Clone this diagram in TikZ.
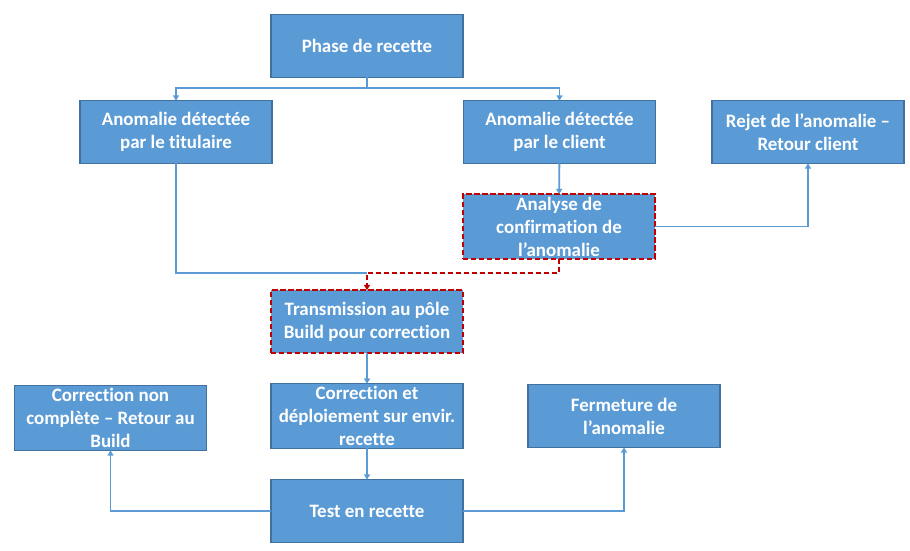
\documentclass[tikz,border=0pt]{standalone}
\usepackage{fontspec}
\setmainfont{Carlito}[Ligatures=NoCommon]
\usetikzlibrary{arrows.meta}

\definecolor{boxblue}{HTML}{5B9BD5}
\definecolor{boxedge}{HTML}{41719C}
\definecolor{darkred}{HTML}{C00000}

\begin{document}
\begin{tikzpicture}[x=0.75pt, y=-0.75pt,
    stepbox/.style={rectangle, fill=boxblue, draw=boxedge, line width=0.8pt,
                    minimum width=144pt, minimum height=47pt,
                    inner sep=2pt, outer sep=0pt, align=center,
                    text=white, font=\bfseries\fontsize{14.2}{17.2}\selectfont},
    checkbox/.style={stepbox, draw=darkred, line width=1.3pt, dash pattern=on 4pt off 2pt},
    link/.style={draw=boxblue, line width=1.4pt, -{Triangle[length=4pt,width=4.5pt]}},
    redlink/.style={link, draw=darkred, dash pattern=on 4pt off 2pt}]
\useasboundingbox (0,0) rectangle (910,550);

\node[stepbox] (phase) at (367,46) {Phase de recette};
\node[stepbox] (titul) at (176,132) {Anomalie détectée\\par le titulaire};
\node[stepbox] (client) at (559.5,132) {Anomalie détectée\\par le client};
\node[stepbox] (rejet) at (808,132) {Rejet de l’anomalie –\\Retour client};
\node[checkbox] (analyse) at (559,226.5) {Analyse de\\confirmation de\\l’anomalie};
\node[checkbox] (trans) at (367,321.5) {Transmission au pôle\\Build pour correction};
\node[stepbox] (nonc) at (110.5,418) {Correction non\\complète – Retour au\\Build};
\node[stepbox] (corr) at (367,416) {Correction et\\déploiement sur envir.\\recette};
\node[stepbox] (ferm) at (624,416) {Fermeture de\\l’anomalie};
\node[stepbox] (test) at (367,511) {Test en recette};

\coordinate (split) at (367,88);
\coordinate (join) at (367,273);

% phase -> two kinds of detection
\draw[link] (phase.south) -- (split) -| (titul.north);
\draw[link] (split) -| (client.north);
\draw[link] (client) -- (analyse);
\draw[link] (analyse.east) -| (rejet.south);

% back to build
\draw[draw=boxblue, line width=1.4pt] (titul.south) |- (join);
\draw[redlink] (analyse.south) |- (join) -- (trans.north);
\draw[link] (trans) -- (corr);
\draw[link] (corr) -- (test);

% test outcomes
\draw[link] (test.west) -| (nonc.south);
\draw[link] (test.east) -| (ferm.south);
\end{tikzpicture}
\end{document}
